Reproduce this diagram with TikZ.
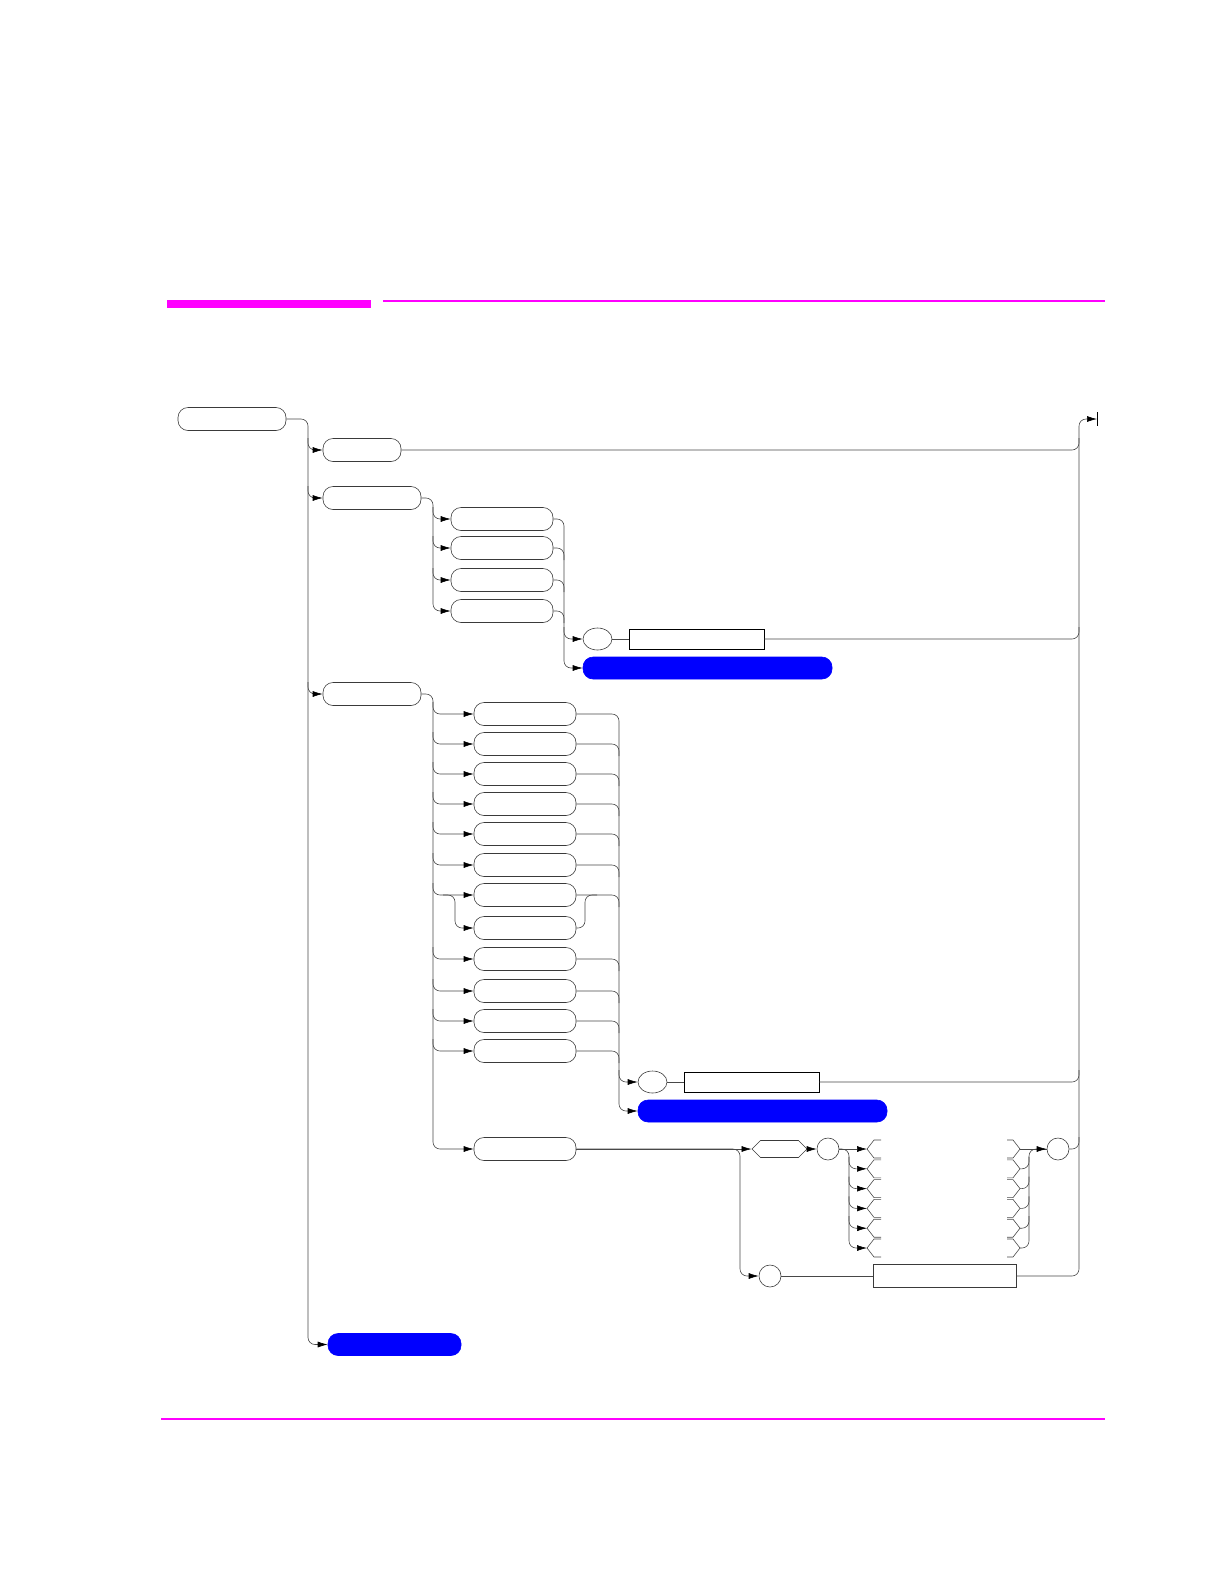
\documentclass[tikz,border=0pt]{standalone}
\usetikzlibrary{arrows.meta, shapes, positioning, calc}
\definecolor{hpmagenta}{HTML}{FF00FF}
\definecolor{railgray}{HTML}{484848}
\definecolor{boxgray}{HTML}{3A3A3A}
\definecolor{keyblue}{HTML}{0000FF}

\tikzset{
  rail/.style={draw=railgray, line width=0.6pt, rounded corners=7pt},
  flecha/.style={-{Latex[length=10pt,width=6pt,color=black]}},
  clave/.style={draw=boxgray, line width=0.6pt, rounded corners=10pt, minimum height=23pt, inner sep=0pt},
  clavebl/.style={clave, fill=keyblue, draw=keyblue},
  param/.style={draw=black, line width=0.8pt, minimum height=20pt, inner sep=0pt},
  sep/.style={ellipse, draw=boxgray, line width=0.6pt, minimum width=29pt, minimum height=22pt, inner sep=0pt},
  circ/.style={circle, draw=boxgray, line width=0.6pt, minimum size=22pt, inner sep=0pt},
  hexa/.style={signal, signal to=west and east, signal pointer angle=90, draw=boxgray, line width=0.6pt, minimum width=55pt, minimum height=17pt, inner sep=0pt}
}

\begin{document}
\begin{tikzpicture}[x=1pt, y=-1pt]
  \useasboundingbox (0,0) rectangle (1224,1582);
  % Cabecera y pie
  \fill[hpmagenta] (167,300) rectangle (371,308);
  \fill[hpmagenta] (383,299.5) rectangle (1105,301.5);
  \fill[hpmagenta] (161,1417.5) rectangle (1105,1419.5);

  % Rieles
  \coordinate (trk) at (308,0);
  \coordinate (brA) at (433,0);
  \coordinate (cvA) at (564,0);
  \coordinate (brB) at (433,0);
  \coordinate (altB) at (455,0);
  \coordinate (joinB) at (585,0);
  \coordinate (cvB) at (619,0);
  \coordinate (brD) at (740,0);
  \coordinate (brC) at (849,0);
  \coordinate (cvC) at (1029,0);
  \coordinate (rl) at (1079,0);
  \coordinate (endp) at (1097,419);

  % Comando y opciones
  \node[clave, minimum width=108pt] (cmd) at (232,419) {};
  \node[clave, minimum width=78pt] (optA) at (362,450) {};
  \node[clave, minimum width=98pt] (optB) at (372,498) {};
  \node[clave, minimum width=98pt] (optC) at (372,694) {};
  \node[clavebl, minimum width=133pt, minimum height=22pt] (blueZ) at (394.5,1344.5) {};

  \draw[rail,flecha] (cmd.east) -| (trk |- blueZ) -- (blueZ.west);
  \foreach \o in {optA,optB,optC}
    \draw[rail,flecha] ($(trk |- \o)+(0,-12)$) |- (\o.west);
  \draw[rail] (optA.east) -| ($(rl |- optA)+(0,-12)$);

  % Grupo A
  \foreach \n/\y in {1/519,2/548,3/580,4/611}
    \node[clave, minimum width=102pt] (sA\n) at (502,\y) {};
  \node[sep] (parA) at (597.5,639) {};
  \node[param, minimum width=135pt] (valA) at (696.5,639) {};
  \node[clavebl, minimum width=249pt, minimum height=22pt] (blueA) at (707.5,668) {};

  \draw[rail,flecha] (optB.east) -| (brA |- sA4) -- (sA4.west);
  \foreach \n in {1,2,3}
    \draw[rail,flecha] ($(brA |- sA\n)+(0,-12)$) |- (sA\n.west);
  \draw[rail,flecha] (sA1.east) -| (cvA |- blueA) -- (blueA.west);
  \foreach \n in {2,3,4}
    \draw[rail] (sA\n.east) -| ($(cvA |- sA\n)+(0,12)$);
  \draw[rail,flecha] ($(cvA |- parA)+(0,-12)$) |- (parA.west);
  \draw[rail] (parA.east) -- (valA.west);
  \draw[rail] (valA.east) -| ($(rl |- valA)+(0,-12)$);

  % Grupo B
  \foreach \n/\y in {1/714,2/744,3/774,4/804,5/834,6/865,7/895,8/928,9/959,10/991,11/1021,12/1051}
    \node[clave, minimum width=102pt] (sB\n) at (525,\y) {};
  \node[clave, minimum width=102pt] (sBz) at (525,1149) {};
  \node[sep] (parB) at (652.5,1082) {};
  \node[param, minimum width=135pt] (valB) at (751.5,1082) {};
  \node[clavebl, minimum width=249pt, minimum height=22pt] (blueB) at (762.5,1111) {};

  \draw[rail,flecha] (optC.east) -| (brB |- sBz) -- (sBz.west);
  \foreach \n in {1,2,3,4,5,6,7,9,10,11,12}
    \draw[rail,flecha] ($(brB |- sB\n)+(0,-12)$) |- (sB\n.west);
  \draw[rail,flecha] ($(brB |- sB7)+(10,0)$) -| (altB |- sB8) -- (sB8.west);
  \draw[rail] (sB8.east) -| (joinB |- sB7) -- ($(joinB |- sB7)+(12,0)$);
  \draw[rail,flecha] (sB1.east) -| (cvB |- blueB) -- (blueB.west);
  \foreach \n in {2,3,4,5,6,7,9,10,11,12}
    \draw[rail] (sB\n.east) -| ($(cvB |- sB\n)+(0,12)$);
  \draw[rail,flecha] ($(cvB |- parB)+(0,-12)$) |- (parB.west);
  \draw[rail] (parB.east) -- (valB.west);
  \draw[rail] (valB.east) -| ($(rl |- valB)+(0,-12)$);

  % Bloque inferior
  \node[hexa] (hexC) at (779.5,1149) {};
  \node[circ] (circC) at (828,1149) {};
  \node[circ] (circE) at (1058,1149) {};
  \node[circ] (circD) at (770,1276) {};
  \node[param, draw=boxgray, line width=0.6pt, minimum width=143pt, minimum height=23pt] (valE) at (944.5,1276) {};

  \draw[rail,flecha] (sBz.east) -- (hexC.west);
  \draw[rail,flecha] (sBz.east) -| (brD |- circD) -- (circD.west);
  \draw[rail,flecha] (hexC.east) -- (circC.west);
  \draw[rail] (circD.east) -- (valE.west);

  % Alternativas abiertas
  \foreach \i in {0,...,5} {
    \pgfmathsetmacro\yy{1149+19.8*\i}
    \coordinate (cl\i) at (867,\yy);
    \coordinate (cr\i) at (1020,\yy);
    \draw[rail, rounded corners=0pt] (881,\yy-9) -- (874,\yy-9) -- (cl\i) -- (874,\yy+9) -- (881,\yy+9);
    \draw[rail, rounded corners=0pt] (1007,\yy-9) -- (1013,\yy-9) -- (cr\i) -- (1013,\yy+9) -- (1007,\yy+9);
  }
  \draw[rail,flecha] (circC.east) -- (cl0);
  \draw[rail,flecha] (circC.east) -| (brC |- cl5) -- (cl5);
  \foreach \i in {1,...,4}
    \draw[rail,flecha] ($(brC |- cl\i)+(0,-12)$) |- (cl\i);
  \draw[rail] (cr0) -- (circE.west);
  \draw[rail,flecha] (cr5) -| (cvC |- cr0) -- (circE.west);
  \foreach \i in {1,...,4}
    \draw[rail] (cr\i) -| ($(cvC |- cr\i)+(0,-12)$);
  \draw[rail] (circE.east) -| ($(rl |- circE)+(0,-12)$);

  % Riel de salida
  \draw[rail,flecha] (valE.east) -| (rl |- endp) -- (endp);
  \draw[line width=0.8pt] ($(endp)+(0.5,-7)$) -- ($(endp)+(0.5,7)$);
\end{tikzpicture}
\end{document}
